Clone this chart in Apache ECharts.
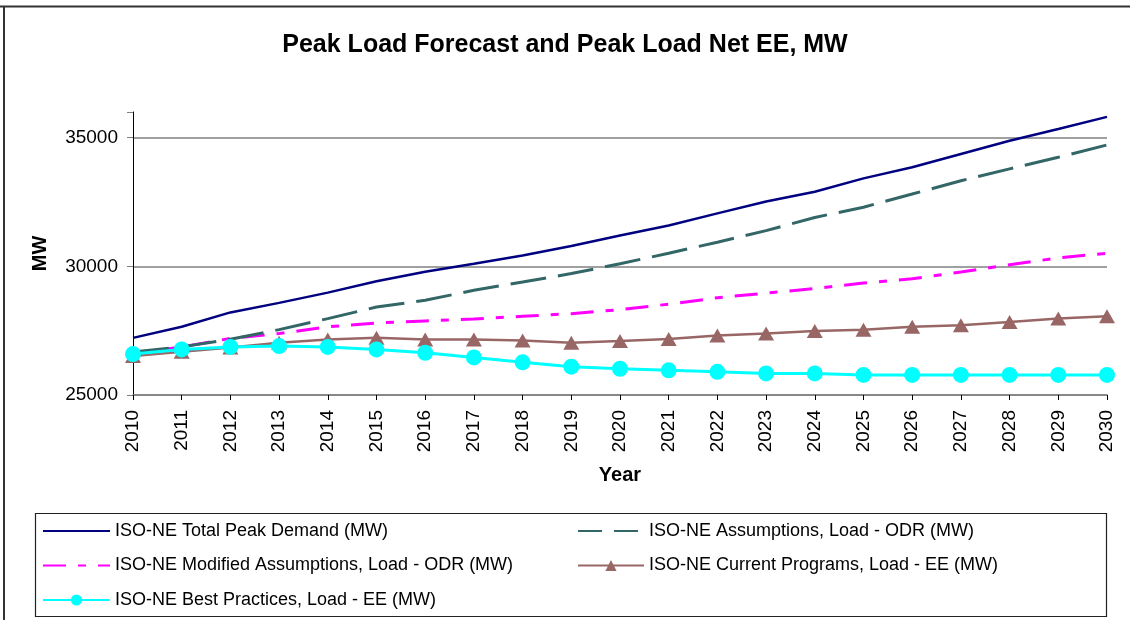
<!DOCTYPE html>
<html>
<head>
<meta charset="utf-8">
<script src="https://cdn.jsdelivr.net/npm/echarts@6/dist/echarts.min.js"></script>
<style>
  html,body{margin:0;padding:0;background:#fff;}
  #chart{width:1130px;height:620px;}
</style>
</head>
<body>
<div id="chart"></div>
<script>
const years = ['2010','2011','2012','2013','2014','2015','2016','2017','2018','2019','2020',
  '2021','2022','2023','2024','2025','2026','2027','2028','2029','2030'];

const totalPeak = [27220,27650,28210,28580,28980,29420,29790,30100,30420,30790,31200,
  31590,32060,32520,32900,33420,33850,34370,34880,35340,35810];
const assumptionsOdr = [26670,26870,27170,27540,27970,28420,28680,29070,29390,29720,30100,
  30510,30940,31390,31900,32300,32810,33330,33790,34240,34720];
const modifiedOdr = [26600,26870,27200,27390,27650,27800,27880,27950,28060,28160,28320,
  28530,28780,28960,29140,29350,29520,29780,30060,30330,30510];
const currentEe = [26520,26680,26850,27030,27160,27230,27160,27160,27120,27030,27100,
  27180,27310,27390,27490,27540,27650,27710,27840,27970,28060];
const bestEe = [26590,26770,26870,26900,26870,26770,26640,26460,26270,26100,26020,
  25960,25900,25840,25840,25780,25780,25780,25780,25780,25780];

const names = [
  'ISO-NE Total Peak Demand (MW)',
  'ISO-NE Assumptions, Load - ODR (MW)',
  'ISO-NE Modified Assumptions, Load - ODR (MW)',
  'ISO-NE Current Programs, Load - EE (MW)',
  'ISO-NE Best Practices, Load - EE (MW)'
];

const font = '"Liberation Sans", Arial, sans-serif';
const chart = echarts.init(document.getElementById('chart'));

const legendText = {fontFamily: font, fontSize: 18, color: '#000'};
const noSymbol = {opacity: 0};

chart.setOption({
  animation: false,
  backgroundColor: '#fff',
  title: {
    text: 'Peak Load Forecast and Peak Load Net EE, MW',
    left: 'center',
    top: 28,
    textStyle: {fontFamily: font, fontSize: 25, fontWeight: 'bold', color: '#000'}
  },
  graphic: [
    {type: 'line', shape: {x1: 0, y1: 6.5, x2: 1130, y2: 6.5},
      style: {stroke: '#333', lineWidth: 2}, silent: true},
    {type: 'line', shape: {x1: 4, y1: 6, x2: 4, y2: 620},
      style: {stroke: '#333', lineWidth: 2}, silent: true},
    {type: 'rect', shape: {x: 35.5, y: 513.5, width: 1071, height: 103},
      style: {fill: 'none', stroke: '#222', lineWidth: 1.2}, silent: true}
  ],
  legend: [
    {
      orient: 'vertical', left: 42, top: 522, padding: 0,
      itemWidth: 67, itemHeight: 14, itemGap: 16.5,
      data: [
        {name: names[0], itemStyle: noSymbol},
        {name: names[2], itemStyle: noSymbol, lineStyle: {type: [23, 12, 8, 12]}},
        {name: names[4]}
      ],
      textStyle: legendText
    },
    {
      orient: 'vertical', left: 577, top: 522, padding: 0,
      itemWidth: 66, itemHeight: 14, itemGap: 16.5,
      data: [
        {name: names[1], itemStyle: noSymbol, lineStyle: {type: [24, 12]}},
        {name: names[3]}
      ],
      textStyle: legendText
    }
  ],
  grid: {left: 133, right: 23, top: 112, bottom: 225},
  xAxis: {
    type: 'category',
    data: years,
    boundaryGap: false,
    name: 'Year',
    nameLocation: 'middle',
    nameGap: 70,
    nameTextStyle: {fontFamily: font, fontSize: 20, fontWeight: 'bold', color: '#000'},
    axisLine: {lineStyle: {color: '#808080', width: 1.5}},
    axisTick: {alignWithLabel: true, length: 5, lineStyle: {color: '#000'}},
    axisLabel: {rotate: 90, margin: 15, fontFamily: font, fontSize: 19, color: '#000'}
  },
  yAxis: {
    type: 'value',
    min: 25000,
    max: 36000,
    interval: 5000,
    name: 'MW',
    nameLocation: 'middle',
    nameGap: 83,
    nameTextStyle: {fontFamily: font, fontSize: 20, fontWeight: 'bold', color: '#000'},
    axisLine: {show: true, lineStyle: {color: '#000', width: 1}},
    axisTick: {show: true, length: 6, lineStyle: {color: '#808080'}},
    axisLabel: {
      margin: 15, fontFamily: font, fontSize: 19, color: '#000',
      formatter: v => (v % 5000 === 0 ? String(v) : '')
    },
    splitLine: {lineStyle: {color: ['#808080', '#808080', '#808080', 'rgba(0,0,0,0)'], width: 1.5}}
  },
  series: [
    {
      name: names[0], type: 'line', data: totalPeak, symbol: 'none', z: 5,
      lineStyle: {color: '#000080', width: 2.5}, itemStyle: {color: '#000080'}
    },
    {
      name: names[1], type: 'line', data: assumptionsOdr, symbol: 'none', z: 4,
      lineStyle: {color: '#336666', width: 3, type: [36, 12]}, itemStyle: {color: '#336666'}
    },
    {
      name: names[2], type: 'line', data: modifiedOdr, symbol: 'none', z: 3,
      lineStyle: {color: '#ff00ff', width: 3, type: [23, 12, 8, 12]}, itemStyle: {color: '#ff00ff'}
    },
    {
      name: names[3], type: 'line', data: currentEe, symbol: 'triangle', symbolSize: [16, 14], z: 2,
      lineStyle: {color: '#996666', width: 2.5}, itemStyle: {color: '#996666'}
    },
    {
      name: names[4], type: 'line', data: bestEe, symbol: 'circle', symbolSize: 16, z: 6,
      lineStyle: {color: '#00ffff', width: 3}, itemStyle: {color: '#00ffff'}
    }
  ]
});
</script>
</body>
</html>
